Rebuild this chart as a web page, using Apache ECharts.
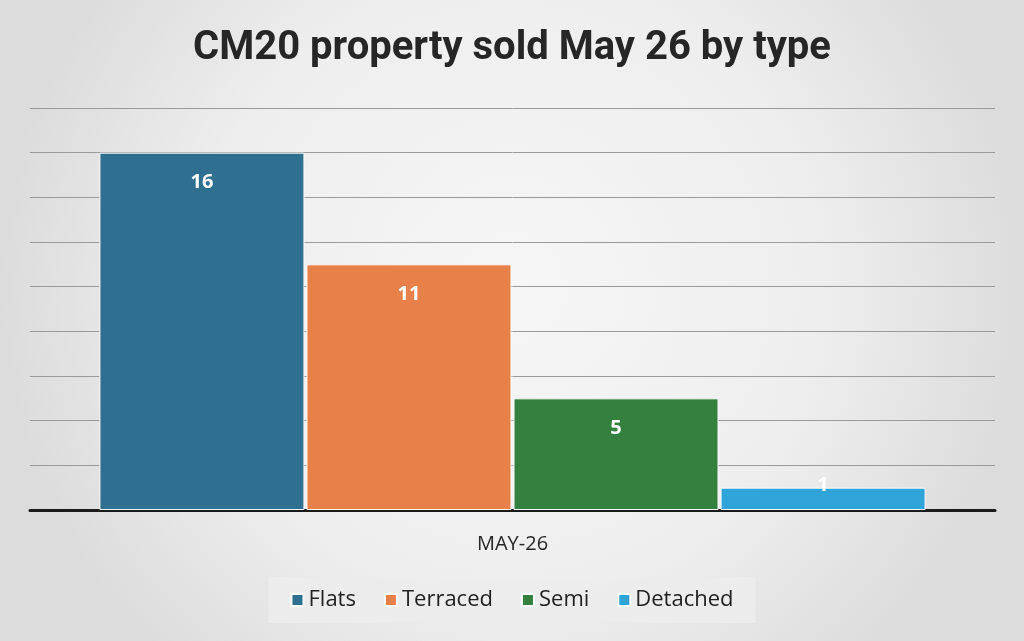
<!DOCTYPE html>
<html>
<head>
<meta charset="utf-8">
<script src="https://cdn.jsdelivr.net/npm/echarts@6/dist/echarts.min.js"></script>
<style>
  html, body { margin: 0; padding: 0; }
  #main { width: 1024px; height: 641px; }
</style>
</head>
<body>
<div id="main"></div>
<script>
// data
var categories = ['MAY-26'];
var seriesNames = ['Flats', 'Terraced', 'Semi', 'Detached'];
var seriesValues = [16, 11, 5, 1];
var seriesColors = ['#2f6f8f', '#e8804a', '#33803f', '#2ea4d8'];

var chart = echarts.init(document.getElementById('main'));

var series = [];
for (var i = 0; i < seriesNames.length; i++) {
    series.push({
        name: seriesNames[i],
        type: 'bar',
        barWidth: 205,
        barGap: '1%',
        itemStyle: { color: seriesColors[i], borderColor: '#fafafa', borderWidth: 1 },
        label: {
            show: true,
            // the tiny bar puts its label above
            position: seriesValues[i] < 2 ? 'top' : 'insideTop',
            distance: seriesValues[i] < 2 ? -8 : 20,
            color: '#ffffff',
            fontWeight: 'bold',
            fontSize: 20,
            fontFamily: 'Open Sans'
        },
        data: [seriesValues[i]]
    });
}

chart.setOption({
    backgroundColor: {
        type: 'radial', x: 0.5, y: 0.45, r: 0.8,
        colorStops: [
            {offset: 0, color: '#f6f6f6'},
            {offset: 0.6, color: '#eeeeee'},
            {offset: 1, color: '#dcdcdc'}
        ]
    },
    animation: false,
    title: {
        text: 'CM20 property sold May 26 by type',
        left: 'center',
        top: 24,
        textStyle: {
            fontFamily: 'Roboto',
            fontWeight: 'bold',
            fontSize: 40,
            color: '#262626'
        }
    },
    legend: {
        bottom: 18,
        left: 'center',
        itemWidth: 12,
        itemHeight: 12,
        itemGap: 28,
        icon: 'rect',
        padding: [12, 22],
        backgroundColor: 'rgba(236,236,236,0.95)',
        textStyle: { fontSize: 22, color: '#222', fontFamily: 'Open Sans' },
        data: seriesNames
    },
    grid: { left: 30, right: 29, top: 108, bottom: 131 },
    xAxis: {
        type: 'category',
        data: categories,
        axisLine: { lineStyle: { color: '#1a1a1a', width: 3 } },
        axisTick: { show: false },
        axisLabel: { margin: 24, fontSize: 20, color: '#262626', fontFamily: 'Open Sans' }
    },
    yAxis: {
        type: 'value',
        min: 0,
        max: 18,
        interval: 2,
        axisLabel: { show: false },
        axisLine: { show: false },
        splitLine: { lineStyle: { color: '#9a9a9a', width: 1 } }
    },
    series: series
});
</script>
</body>
</html>
